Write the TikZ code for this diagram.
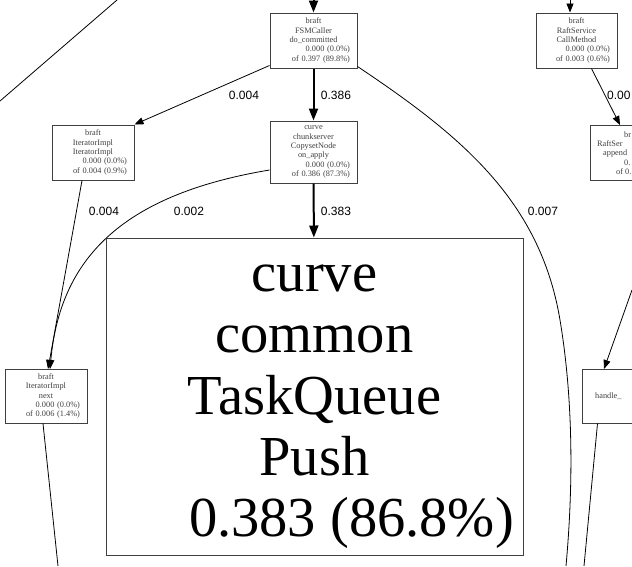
\documentclass[tikz,border=0pt]{standalone}
\usepackage{fontspec}
\setmainfont{Liberation Serif}
\newfontfamily\lblfont{Liberation Sans}
\usetikzlibrary{arrows.meta}
\begin{document}
\begin{tikzpicture}[x=1pt,y=-1pt,
  box/.style={draw=black!75, line width=1pt, fill=white, inner sep=0pt,
    font=\fontsize{8.3}{9.3}\selectfont, text=black!75, align=center},
  frag/.style={anchor=west, inner sep=0pt, font=\fontsize{8.3}{9.3}\selectfont, text=black!75},
  big/.style={draw=black!75, line width=1pt, inner sep=0pt, align=center,
    font=\fontsize{56.5}{61.3}\selectfont},
  thinarrow/.style={line width=0.8pt, -{Triangle[length=9pt,width=7pt]}},
  thickarrow/.style={line width=2pt, -{Triangle[length=12pt,width=9pt]}},
  plainline/.style={line width=0.8pt},
  lbl/.style={font=\lblfont\fontsize{12}{14}\selectfont, inner sep=0pt}]
\useasboundingbox (0,0) rectangle (632,566);
\clip (0,0) rectangle (632,566);

% nodes
\node[box, minimum width=87pt, minimum height=55pt, text width=73pt] (fsm) at (313.5,40.5)
  {braft\\FSMCaller\\do\_committed\\\hfill 0.000 (0.0\%)\\\hfill of 0.397 (89.8\%)};
\node[box, minimum width=82pt, minimum height=55pt, text width=68pt] (iter) at (93,152.5)
  {braft\\IteratorImpl\\IteratorImpl\\\hfill 0.000 (0.0\%)\\\hfill of 0.004 (0.9\%)};
\node[box, minimum width=87pt, minimum height=62pt, text width=73pt] (copyset) at (313.5,152)
  {curve\\chunkserver\\CopysetNode\\on\_apply\\\hfill 0.000 (0.0\%)\\\hfill of 0.386 (87.3\%)};
\node[box, minimum width=81pt, minimum height=55pt, text width=67pt] (callm) at (576.5,40.5)
  {braft\\RaftService\\CallMethod\\\hfill 0.000 (0.0\%)\\\hfill of 0.003 (0.6\%)};
\node[box, minimum width=86pt, minimum height=55pt] (append) at (633,152.5) {};
\node[frag] (ap1) at (624,134.5) {br};
\node[frag] (ap2) at (597,143.8) {RaftSer};
\node[frag] (ap3) at (603,153.1) {append};
\node[frag] (ap4) at (624,162.4) {0.};
\node[frag] (ap5) at (616,171.7) {of 0.};
\node[box, minimum width=82pt, minimum height=54pt, text width=68pt] (next) at (46,396)
  {braft\\IteratorImpl\\next\\\hfill 0.000 (0.0\%)\\\hfill of 0.006 (1.4\%)};
\node[box, minimum width=90pt, minimum height=54pt] (handle) at (627,396) {};
\node[frag] (hd1) at (595,396) {handle\_};
\node[big, minimum width=417pt, minimum height=317pt] (push) at (314.5,396.5)
  {\\[-14pt]curve\\common\\TaskQueue\\Push\\\hspace*{74pt}0.383 (86.8\%)};

% free ends
\coordinate (topfsm) at (313.5,0);
\coordinate (topcall) at (570,0);
\coordinate (tl1) at (0,101);
\coordinate (tl2) at (117,0);
\coordinate (nextbot) at (58,566);
\coordinate (fsmbot) at (566,566);
\coordinate (handletop) at (632,290);
\coordinate (handlebot) at (584,566);

% edges
\draw[thickarrow] (topfsm) -- (fsm);
\draw[thinarrow] (topcall) -- (callm.north -| topcall);
\draw[plainline] (tl1) -- (tl2);
\draw[thinarrow] (fsm.south west) ++(0,-3) -- (iter.north east);
\draw[thickarrow] (fsm) -- (copyset);
\draw[plainline] (fsm.south east) ++(0,-2) .. controls (460,135) and (540,200) .. (560,320)
  .. controls (575,410) and (572,500) .. (fsmbot);
\draw[thinarrow] (callm.south) ++(15,0) -- (620,125);
\draw[thinarrow] (iter.south) ++(-11,0) -- (48,369);
\draw[thinarrow] (copyset.west) ++(0,18) .. controls (120,195) and (60,260) .. (50,369);
\draw[thickarrow] (copyset) -- (push);
\draw[plainline] (next.south) ++(-3,0) -- (nextbot);
\draw[thinarrow] (handletop) -- (604,369);
\draw[plainline] (handle.south west) ++(16,0) -- (handlebot);

% labels
\node[lbl] (l1) at (244,95) {0.004};
\node[lbl] (l2) at (336,95) {0.386};
\node[lbl, anchor=west] (l3) at (607,95) {0.00};
\node[lbl] (l4) at (104,211) {0.004};
\node[lbl] (l5) at (189,211) {0.002};
\node[lbl] (l6) at (336,211) {0.383};
\node[lbl] (l7) at (543,211) {0.007};
\end{tikzpicture}
\end{document}
